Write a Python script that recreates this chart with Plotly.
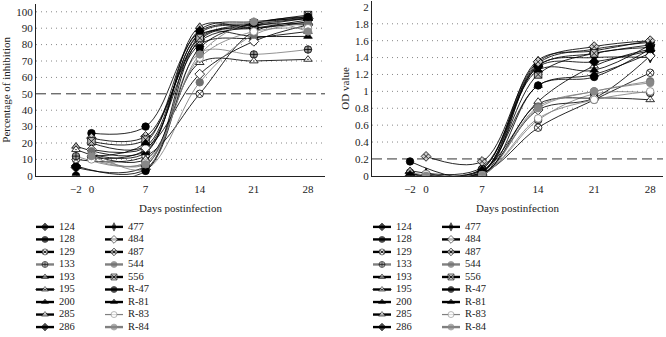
import plotly.graph_objects as go

# ---------------- data ----------------
days = [-2, 0, 7, 14, 21, 28]
day_labels = ["\u22122", "0", "7", "14", "21", "28"]
series = ["124", "128", "129", "133", "193", "195", "200", "285", "286",
          "477", "484", "487", "544", "556", "R-47", "R-81", "R-83", "R-84"]

# Percentage of inhibition (None = not measured)
inh_124 = [6, None, 4, 83, 92, 96]
inh_128 = [None, 26, 30, 88, 93, 97]
inh_129 = [10, None, 12, 50, 88, 92]
inh_133 = [12, None, 8, 75, 74, 77]
inh_193 = [18, None, 15, 91, 90, 94]
inh_195 = [16, None, 10, 69, 70, 71]
inh_200 = [None, 13, 14, 86, 85, 85]
inh_285 = [None, 11, 16, 80, 84, 88]
inh_286 = [5, None, 6, 85, 90, 95]
inh_477 = [None, 20, 18, 87, 92, 93]
inh_484 = [None, 16, 17, 62, 82, 92]
inh_487 = [None, 23, 24, 82, 91, 96]
inh_544 = [None, 15, 4, 57, 86, 93]
inh_556 = [None, 21, 22, 84, 93, 98]
inh_R47 = [0, None, 3, 78, 93, 97]
inh_R81 = [None, 12, 20, 89, 94, 96]
inh_R83 = [None, 10, 8, 72, 88, 90]
inh_R84 = [None, 12, 7, 74, 94, 88]

# OD values
od_124 = [0.03, None, 0.05, 1.30, 1.45, 1.55]
od_128 = [None, 0.02, 0.08, 1.33, 1.50, 1.58]
od_129 = [0.02, None, 0.03, 0.57, 0.90, 1.22]
od_133 = [0.04, None, 0.02, 0.66, 0.97, 0.98]
od_193 = [0.06, None, 0.10, 1.37, 1.48, 1.60]
od_195 = [0.02, None, 0.01, 0.85, 0.92, 0.90]
od_200 = [None, 0.01, 0.05, 1.07, 1.20, 1.45]
od_285 = [None, 0.00, 0.06, 0.88, 1.30, 1.50]
od_286 = [0.00, None, 0.00, 1.29, 1.35, 1.48]
od_477 = [None, 0.03, 0.04, 1.31, 1.40, 1.40]
od_484 = [None, 0.00, 0.02, 0.78, 0.92, 1.42]
od_487 = [None, 0.23, 0.17, 1.35, 1.53, 1.60]
od_544 = [None, 0.00, 0.00, 0.82, 1.00, 1.12]
od_556 = [None, 0.00, 0.03, 1.20, 1.45, 1.52]
od_R47 = [0.17, None, 0.00, 1.07, 1.17, 1.50]
od_R81 = [None, 0.01, 0.08, 1.25, 1.25, 1.55]
od_R83 = [None, 0.02, 0.01, 0.68, 0.90, 1.00]
od_R84 = [None, 0.00, 0.00, 0.80, 1.00, 1.10]

left_grid = [10, 20, 30, 40, 60, 70, 80, 90, 100]
right_grid = [0.4, 0.6, 0.8, 1.0, 1.2, 1.4, 1.6, 1.8]
left_cut = 50
right_cut = 0.2

inh_all = [inh_124, inh_128, inh_129, inh_133, inh_193, inh_195, inh_200, inh_285, inh_286,
           inh_477, inh_484, inh_487, inh_544, inh_556, inh_R47, inh_R81, inh_R83, inh_R84]
od_all = [od_124, od_128, od_129, od_133, od_193, od_195, od_200, od_285, od_286,
          od_477, od_484, od_487, od_544, od_556, od_R47, od_R81, od_R83, od_R84]

# ---------------- styles ----------------
BLK, GRY, LG = "#000000", "#808080", "#b0b0b0"
# (symbol, fill, outline, line colour)
styles = [
    ("diamond", BLK, BLK, BLK),          # 124
    ("circle-x", BLK, BLK, BLK),         # 128
    ("circle-x", "white", BLK, BLK),     # 129
    ("circle-cross", "#999", BLK, GRY),  # 133
    ("triangle-up", LG, BLK, BLK),       # 193
    ("triangle-up-dot", "white", BLK, BLK),  # 195
    ("triangle-up", BLK, BLK, BLK),      # 200
    ("triangle-up", "white", BLK, BLK),  # 285
    ("diamond", BLK, BLK, BLK),          # 286
    ("diamond-tall", BLK, BLK, BLK),     # 477
    ("diamond", "white", BLK, BLK),      # 484
    ("diamond-x", "#ccc", BLK, BLK),     # 487
    ("circle", "#707070", "#707070", GRY),  # 544
    ("square-x", "#bbb", BLK, BLK),      # 556
    ("circle", BLK, BLK, BLK),           # R-47
    ("triangle-up", BLK, BLK, BLK),      # R-81
    ("circle", "white", GRY, GRY),       # R-83
    ("circle", "#888", "#888", GRY),     # R-84
]

W, H = 666, 337
SERIF = "Liberation Serif"


def px(xp):
    return xp / W


def py(yp):
    return 1 - yp / H


fig = go.Figure()

for k, name in enumerate(series):
    sym, fill, outl, lc = styles[k]
    for vals, xa, ya in ((inh_all[k], "x", "y"), (od_all[k], "x2", "y2")):
        xs = [d for d, v in zip(days, vals) if v is not None]
        ys = [v for v in vals if v is not None]
        fig.add_trace(go.Scatter(
            x=xs, y=ys, mode="lines+markers", name=name, xaxis=xa, yaxis=ya,
            line=dict(color=lc, width=0.85, shape="spline", smoothing=1.0),
            marker=dict(symbol=sym, size=7.5, color=fill, line=dict(color=outl, width=0.8)),
            showlegend=False, hoverinfo="skip"))

# ---------------- custom legends (pixel-unit axes) ----------------
row0, rowstep = 231, 12.75
legend_cols = [(36, 54, 59), (105, 123, 128), (373, 391, 396), (442, 460, 465)]
for block in range(2):
    for k, name in enumerate(series):
        col = k // 9
        row = k % 9
        x0, x1, tx = legend_cols[block * 2 + col]
        y = row0 + row * rowstep
        sym, fill, outl, lc = styles[k]
        thin = name == "R-83"
        fig.add_trace(go.Scatter(
            x=[x0, (x0 + x1) / 2, x1], y=[y, y, y], mode="lines+markers",
            xaxis="x3", yaxis="y3", showlegend=False, hoverinfo="skip",
            line=dict(color=lc, width=1.2 if thin else 2.4),
            marker=dict(symbol=sym, size=[0, 6, 0], color=fill, line=dict(color=outl, width=0.8))))
        fig.add_trace(go.Scatter(
            x=[tx], y=[y], mode="text", text=[name], textposition="middle right",
            xaxis="x3", yaxis="y3", showlegend=False, hoverinfo="skip",
            textfont=dict(family=SERIF, size=10.5, color="#222")))

# ---------------- shapes: grid + threshold ----------------
shapes = []
for g in left_grid:
    shapes.append(dict(type="line", xref="x domain", yref="y", x0=0, x1=1, y0=g, y1=g,
                       line=dict(color="#888", width=1, dash="1px,4px"), layer="below"))
for g in right_grid:
    shapes.append(dict(type="line", xref="x2 domain", yref="y2", x0=0, x1=1, y0=g, y1=g,
                       line=dict(color="#888", width=1, dash="1px,4px"), layer="below"))
shapes.append(dict(type="line", xref="x domain", yref="y", x0=0, x1=1, y0=left_cut, y1=left_cut,
                   line=dict(color="#333", width=1, dash="10px,5px"), layer="below"))
shapes.append(dict(type="line", xref="x2 domain", yref="y2", x0=0, x1=1, y0=right_cut, y1=right_cut,
                   line=dict(color="#333", width=1, dash="10px,5px"), layer="below"))

tickfont = dict(family=SERIF, size=11, color="#222")
titlefont = dict(family=SERIF, size=11, color="#222")

axis_common = dict(showgrid=False, zeroline=False, showline=True, linecolor="#222",
                   linewidth=1, tickfont=tickfont)
xaxis_common = dict(ticks="outside", ticklen=3, tickcolor="rgba(0,0,0,0)", tickvals=days,
                    ticktext=day_labels, **axis_common)
yaxis_common = dict(ticks="", **axis_common)

fig.update_layout(
    width=W, height=H, margin=dict(l=0, r=0, t=0, b=0),
    paper_bgcolor="white", plot_bgcolor="rgba(0,0,0,0)",
    showlegend=False, shapes=shapes,
    xaxis=dict(domain=[px(36), px(325)], range=[-7.17, 30.2], anchor="y",
               title=dict(text="Days postinfection", font=titlefont, standoff=10), **xaxis_common),
    yaxis=dict(domain=[py(179), py(4)], range=[0, 104.8], dtick=10, anchor="x",
               title=dict(text="Percentage of inhibition", font=titlefont, standoff=3), **yaxis_common),
    xaxis2=dict(domain=[px(372), px(663)], range=[-6.75, 29.6], anchor="y2",
                title=dict(text="Days postinfection", font=titlefont, standoff=10), **xaxis_common),
    yaxis2=dict(domain=[py(179), py(1)], range=[0, 2.07], dtick=0.2, tickformat="~g", anchor="x2",
                title=dict(text="OD value", font=titlefont, standoff=3), **yaxis_common),
    xaxis3=dict(domain=[0, 1], range=[0, W], visible=False, fixedrange=True, anchor="y3"),
    yaxis3=dict(domain=[0, 1], range=[H, 0], visible=False, fixedrange=True, anchor="x3"),
)

fig.write_html("out.html", config={"displayModeBar": False},
               post_script="document.body.style.margin='0';document.body.style.overflow='hidden';")
